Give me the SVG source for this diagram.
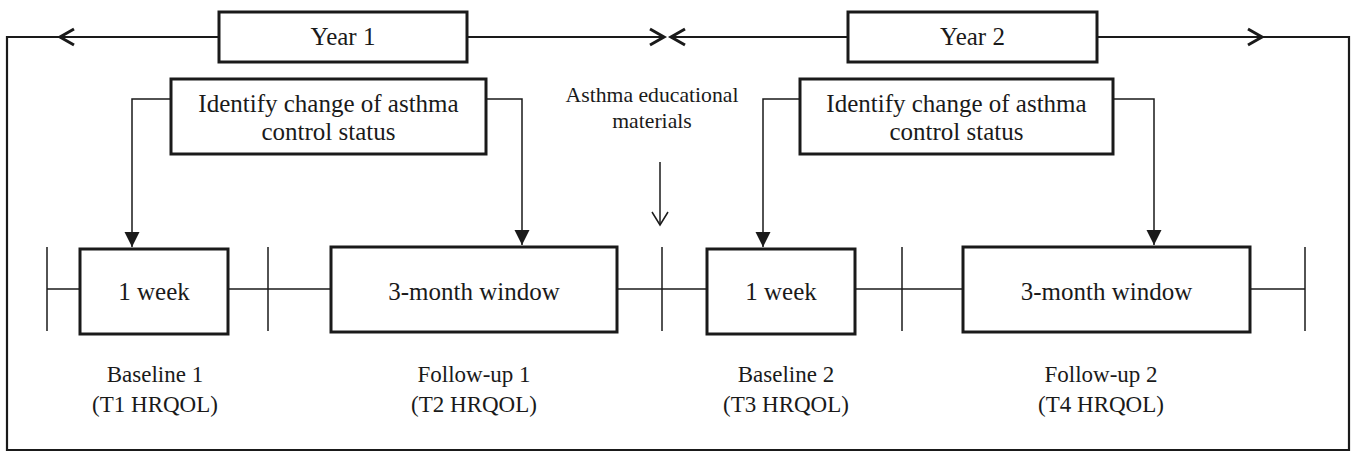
<svg xmlns="http://www.w3.org/2000/svg" width="1357" height="453" viewBox="0 0 1357 453">
<style>
.box{fill:#fff;stroke:#1a1a1a;stroke-width:3}
.ln{fill:none;stroke:#1a1a1a;stroke-width:1.5}
.tl{fill:none;stroke:#1a1a1a;stroke-width:2.2}
text{font-family:"Liberation Serif","Times New Roman",serif;fill:#1a1a1a;text-anchor:middle}
.t24{font-size:25px}
.t23{font-size:23px}
.t21{font-size:21.7px}
</style>
<defs>
<marker id="chev" markerUnits="userSpaceOnUse" markerWidth="24" markerHeight="24" viewBox="-18 -12 24 24" refX="0" refY="0" orient="auto" overflow="visible">
<path d="M-14,-8 L0,0 L-14,8" fill="none" stroke="#1a1a1a" stroke-width="3" stroke-linejoin="miter"/>
</marker>
<marker id="chevthin" markerUnits="userSpaceOnUse" markerWidth="24" markerHeight="24" viewBox="-18 -12 24 24" refX="0" refY="0" orient="auto" overflow="visible">
<path d="M-13,-8 L0,0 L-13,8" fill="none" stroke="#1a1a1a" stroke-width="1.5"/>
</marker>
<marker id="tri" markerUnits="userSpaceOnUse" markerWidth="20" markerHeight="20" viewBox="-14 -8 16 16" refX="0" refY="0" orient="auto" overflow="visible">
<path d="M-12,-6 L0,0 L-12,6 z" fill="#1a1a1a"/>
</marker>
</defs>

<g id="frame">
<path class="tl" d="M59,37 H7 V450 H1349 V37 H1263"/>
</g>

<g id="connectors">
<line class="tl" x1="219" y1="37" x2="60" y2="37" marker-end="url(#chev)"/>
<line class="tl" x1="467" y1="37" x2="664" y2="37" marker-end="url(#chev)"/>
<line class="tl" x1="848" y1="37" x2="671" y2="37" marker-end="url(#chev)"/>
<line class="tl" x1="1097" y1="37" x2="1262" y2="37" marker-end="url(#chev)"/>
<path class="ln" d="M171,99 H132 V247" marker-end="url(#tri)"/>
<path class="ln" d="M486,99 H522 V245" marker-end="url(#tri)"/>
<path class="ln" d="M800,99 H763 V247" marker-end="url(#tri)"/>
<path class="ln" d="M1113,99 H1154 V245" marker-end="url(#tri)"/>
<line class="ln" x1="660" y1="162" x2="660" y2="225" marker-end="url(#chevthin)"/>
<line class="ln" x1="47" y1="289" x2="1305" y2="289"/>
<line class="ln" x1="47" y1="247" x2="47" y2="331"/>
<line class="ln" x1="268" y1="247" x2="268" y2="331"/>
<line class="ln" x1="662" y1="247" x2="662" y2="331"/>
<line class="ln" x1="902" y1="247" x2="902" y2="331"/>
<line class="ln" x1="1305" y1="247" x2="1305" y2="331"/>
</g>

<g id="year1">
<rect class="box" x="219" y="12" width="248" height="50"/>
<text class="t24" x="343" y="45">Year 1</text>
</g>
<g id="year2">
<rect class="box" x="848" y="12" width="249" height="50"/>
<text class="t24" x="972.5" y="45">Year 2</text>
</g>
<g id="identify1">
<rect class="box" x="171" y="79" width="315" height="75"/>
<text class="t24" x="328.5" y="112">Identify change of asthma</text>
<text class="t24" x="328.5" y="140">control status</text>
</g>
<g id="identify2">
<rect class="box" x="800" y="79" width="313" height="75"/>
<text class="t24" x="956.5" y="112">Identify change of asthma</text>
<text class="t24" x="956.5" y="140">control status</text>
</g>
<g id="materials">
<text class="t21" x="652" y="102">Asthma educational</text>
<text class="t21" x="652" y="128">materials</text>
</g>
<g id="week1">
<rect class="box" x="80" y="249" width="148" height="85"/>
<text class="t24" x="154" y="300">1 week</text>
</g>
<g id="window1">
<rect class="box" x="331" y="247" width="286" height="85"/>
<text class="t24" x="474" y="300">3-month window</text>
</g>
<g id="week2">
<rect class="box" x="707" y="249" width="148" height="85"/>
<text class="t24" x="781" y="300">1 week</text>
</g>
<g id="window2">
<rect class="box" x="963" y="247" width="287" height="85"/>
<text class="t24" x="1106.5" y="300">3-month window</text>
</g>
<g id="label1">
<text class="t23" x="155" y="382">Baseline 1</text>
<text class="t23" x="155" y="412">(T1 HRQOL)</text>
</g>
<g id="label2">
<text class="t23" x="474" y="382">Follow-up 1</text>
<text class="t23" x="474" y="412">(T2 HRQOL)</text>
</g>
<g id="label3">
<text class="t23" x="786" y="382">Baseline 2</text>
<text class="t23" x="786" y="412">(T3 HRQOL)</text>
</g>
<g id="label4">
<text class="t23" x="1101" y="382">Follow-up 2</text>
<text class="t23" x="1101" y="412">(T4 HRQOL)</text>
</g>
</svg>
